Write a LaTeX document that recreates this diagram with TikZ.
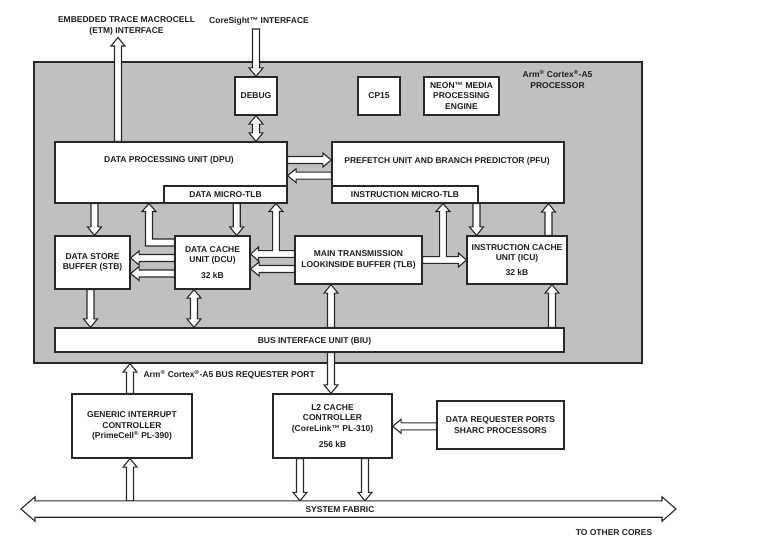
\documentclass[tikz,border=0pt]{standalone}
\usepackage{fontspec}
\setmainfont{Liberation Sans}
\usetikzlibrary{calc}
\definecolor{procgray}{RGB}{190,192,194}
\definecolor{ln}{RGB}{40,40,40}
\newcommand\rg{\textsuperscript{®}}
% hollow single arrow: from, to, half shaft, half head, head length
\newcommand\sarrg[5]{\path[hol] let \p1=#1, \p2=#2, \n1={atan2(\y2-\y1,\x2-\x1)}, \n2={veclen(\x2-\x1,\y2-\y1)} in
  [shift={(\p1)}, rotate=\n1] (0pt,-#3) -- (\n2-#5,-#3) -- (\n2-#5,-#4) -- (\n2,0pt) -- (\n2-#5,#4) -- (\n2-#5,#3) -- (0pt,#3) -- cycle;}
\newcommand\darrg[5]{\path[hol] let \p1=#1, \p2=#2, \n1={atan2(\y2-\y1,\x2-\x1)}, \n2={veclen(\x2-\x1,\y2-\y1)} in
  [shift={(\p1)}, rotate=\n1] (0pt,0pt) -- (#5,#4) -- (#5,#3) -- (\n2-#5,#3) -- (\n2-#5,#4) -- (\n2,0pt) -- (\n2-#5,-#4) -- (\n2-#5,-#3) -- (#5,-#3) -- (#5,-#4) -- cycle;}
\newcommand\sarr[2]{\sarrg{#1}{#2}{3.5pt}{7pt}{8.5pt}}
\newcommand\darr[2]{\darrg{#1}{#2}{3.5pt}{7pt}{8.5pt}}
\begin{document}
\begin{tikzpicture}[x=1pt,y=-1pt,
  font=\fontsize{8.5}{10.5}\selectfont\bfseries, text=black!88,
  box/.style={draw=ln, fill=white, line width=1.25pt, inner sep=0pt, align=center},
  hol/.style={draw=ln, fill=white, line width=1.1pt, line join=miter},
  lbl/.style={inner sep=0pt, anchor=base, align=center}]
\useasboundingbox (0,0) rectangle (757,556);

% processor
\node[draw=ln, fill=procgray, line width=1.25pt, minimum width=608pt, minimum height=301pt, inner sep=0pt] (proc) at (338,212.5) {};

\node[box, minimum width=42pt, minimum height=38pt] (debug) at (256,96) {DEBUG};
\node[box, minimum width=42pt, minimum height=38pt] (cp15) at (379,96) {CP15};
\node[box, minimum width=75pt, minimum height=38pt] (neon) at (461.5,96) {NEON™ MEDIA\\PROCESSING\\ENGINE};
\node[inner sep=0pt, align=center] (proclbl) at (557.5,79.5) {Arm\rg{} Cortex\rg-A5\\PROCESSOR};

\node[box, minimum width=232pt, minimum height=61pt] (dpu) at (171,172.5) {};
\node[box, minimum width=123pt, minimum height=17pt] (dtlb) at (225.5,194.5) {DATA MICRO-TLB};
\node[lbl] (dputxt) at (169,162.3) {DATA PROCESSING UNIT (DPU)};

\node[box, minimum width=232pt, minimum height=61pt] (pfu) at (448,172.5) {};
\node[box, minimum width=146pt, minimum height=17pt] (itlb) at (405,194.5) {INSTRUCTION MICRO-TLB};
\node[lbl] (pfutxt) at (447,163.3) {PREFETCH UNIT AND BRANCH PREDICTOR (PFU)};

\node[box, minimum width=75pt, minimum height=53pt] (stb) at (92.5,262.5) {DATA STORE\\BUFFER (STB)};
\node[box, minimum width=75pt, minimum height=53pt] (dcu) at (212.5,262.5) {DATA CACHE\\UNIT (DCU)\\[5pt]32 kB};
\node[box, minimum width=127pt, minimum height=48pt] (tlb) at (358.5,260) {MAIN TRANSMISSION\\LOOKINSIDE BUFFER (TLB)};
\node[box, minimum width=100pt, minimum height=48pt] (icu) at (517,260) {INSTRUCTION CACHE\\UNIT (ICU)\\[4.5pt]32 kB};

\node[box, minimum width=509pt, minimum height=24pt] (biu) at (309.5,340) {};
\node[lbl] (biutxt) at (314.5,343.3) {BUS INTERFACE UNIT (BIU)};

% outside
\node[box, minimum width=120pt, minimum height=64pt] (gic) at (132,426) {GENERIC INTERRUPT\\CONTROLLER\\(PrimeCell\rg{} PL-390)};
\node[box, minimum width=119pt, minimum height=64pt] (l2) at (332.5,426) {L2 CACHE\\CONTROLLER\\(CoreLink™ PL-310)\\[5.5pt]256 kB};
\node[box, minimum width=127pt, minimum height=48pt] (dreq) at (500.5,425) {DATA REQUESTER PORTS\\SHARC PROCESSORS};

\node[inner sep=0pt, align=center] (etmtxt) at (126.5,26) {EMBEDDED TRACE MACROCELL\\(ETM) INTERFACE};
\node[lbl] (cstxt) at (259,23.3) {CoreSight™ INTERFACE};
\node[lbl, anchor=base west] (bustxt) at (143.3,377.3) {Arm\rg{} Cortex\rg-A5 BUS REQUESTER PORT};

\coordinate (etmtip) at (118,37.5);
\coordinate (cstail) at (256,29);
\coordinate (fabL) at (21,509);
\coordinate (fabR) at (676,509);
\coordinate (fabtop) at (0,500.8);

% arrows
\sarr{(dpu.north -| 118,0)}{(etmtip)}
\sarr{(cstail)}{(debug.north)}
\darr{(debug.south)}{(dpu.north -| debug.south)}
\sarr{(dpu.east |- 0,160)}{(pfu.west |- 0,160)}
\sarr{(pfu.west |- 0,175.7)}{(dpu.east |- 0,175.7)}
\sarr{(dpu.south -| 94.5,0)}{(stb.north -| 94.5,0)}
\path[hol] (dcu.west |- 0,246) -- (145.5,246) -- (145.5,211.5) -- (142,211.5) -- (dpu.south -| 149,0) -- (156,211.5) -- (152.5,211.5) -- (152.5,239) -- (dcu.west |- 0,239) -- cycle;
\sarr{(dtlb.south -| 236.7,0)}{(dcu.north -| 236.7,0)}
\path[hol] (tlb.west |- 0,250.6) -- (279.4,250.6) -- (279.4,211.5) -- (283,211.5) -- (dtlb.south -| 276,0) -- (269,211.5) -- (272.6,211.5) -- (272.6,250.6) -- (258.5,250.6) -- (258.5,247) -- (dcu.east |- 0,254) -- (258.5,261) -- (258.5,257.4) -- (tlb.west |- 0,257.4) -- cycle;
\sarr{(tlb.west |- 0,269)}{(dcu.east |- 0,269)}
\sarr{(dcu.west |- 0,258)}{(stb.east |- 0,258)}
\sarr{(dcu.west |- 0,273.5)}{(stb.east |- 0,273.5)}
\path[hol] (tlb.east |- 0,256.6) -- (439.6,256.6) -- (439.6,211.5) -- (436,211.5) -- (itlb.south -| 443,0) -- (450,211.5) -- (446.4,211.5) -- (446.4,256.6) -- (458.5,256.6) -- (458.5,253) -- (icu.west |- 0,260) -- (458.5,267) -- (458.5,263.4) -- (tlb.east |- 0,263.4) -- cycle;
\sarr{(itlb.south -| 476.5,0)}{(icu.north -| 476.5,0)}
\sarr{(icu.north -| 548.5,0)}{(pfu.south -| 548.5,0)}
\sarr{(stb.south -| 90.5,0)}{(biu.north -| 90.5,0)}
\darr{(dcu.south -| 194,0)}{(biu.north -| 194,0)}
\sarr{(biu.north -| 331,0)}{(tlb.south -| 331,0)}
\sarr{(biu.north -| 552,0)}{(icu.south -| 552,0)}
\sarr{(biu.south -| 331,0)}{(l2.north -| 331,0)}
\sarr{(gic.north -| 130,0)}{(proc.south -| 130,0)}
\sarr{(dreq.west |- 0,426.3)}{(l2.east |- 0,426.3)}
\sarr{(l2.south -| 300,0)}{(fabtop -| 300,0)}
\sarr{(l2.south -| 365,0)}{(fabtop -| 365,0)}
\sarr{(fabtop -| 130,0)}{(gic.south -| 130,0)}
\darrg{(fabL)}{(fabR)}{8.2pt}{12.2pt}{14pt}

\node[lbl] (fabtxt) at (340,512.3) {SYSTEM FABRIC};
\node[lbl] (othtxt) at (614,535) {TO OTHER CORES};
\end{tikzpicture}
\end{document}
